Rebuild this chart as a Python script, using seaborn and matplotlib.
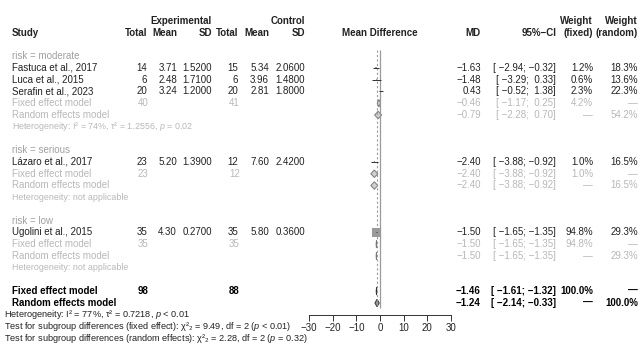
import numpy as np
import pandas as pd
import matplotlib
matplotlib.use("Agg")
import matplotlib.pyplot as plt
import seaborn as sns

# study level data
study = ["Fastuca et al., 2017", "Luca et al., 2015", "Serafin et al., 2023",
         "Lázaro et al., 2017", "Ugolini et al., 2015"]
group = ["moderate", "moderate", "moderate", "serious", "low"]
n_e = [14, 6, 20, 23, 35]
mean_e = [3.71, 2.48, 3.24, 5.20, 4.30]
sd_e = [1.52, 1.71, 1.20, 1.39, 0.27]
n_c = [15, 6, 20, 12, 35]
mean_c = [5.34, 3.96, 2.81, 7.60, 5.80]
sd_c = [2.06, 1.48, 1.80, 2.42, 0.36]
md = [-1.63, -1.48, 0.43, -2.40, -1.50]
md_lo = [-2.94, -3.29, -0.52, -3.88, -1.65]
md_hi = [-0.32, 0.33, 1.38, -0.92, -1.35]
w_fixed = [1.2, 0.6, 2.3, 1.0, 94.8]
w_random = [18.3, 13.6, 22.3, 16.5, 29.3]

# subgroup summaries
groups = ["moderate", "serious", "low"]
grp_n_e = [40, 23, 35]
grp_n_c = [41, 12, 35]
grp_fe = [-0.46, -2.40, -1.50]
grp_fe_lo = [-1.17, -3.88, -1.65]
grp_fe_hi = [0.25, -0.92, -1.35]
grp_re = [-0.79, -2.40, -1.50]
grp_re_lo = [-2.28, -3.88, -1.65]
grp_re_hi = [0.70, -0.92, -1.35]
grp_w_fixed = [4.2, 1.0, 94.8]
grp_w_random = [54.2, 16.5, 29.3]
grp_het = ["Heterogeneity: I\u00b2 = 74%, \u03c4\u00b2 = 1.2556, $p$ = 0.02",
           "Heterogeneity: not applicable", "Heterogeneity: not applicable"]

# overall
tot_n_e, tot_n_c = 98, 88
tot_fe, tot_fe_lo, tot_fe_hi = -1.46, -1.61, -1.32
tot_re, tot_re_lo, tot_re_hi = -1.24, -2.14, -0.33
tot_het = "Heterogeneity: I\u00b2 = 77%, \u03c4\u00b2 = 0.7218, $p$ < 0.01"
test_fixed = "Test for subgroup differences (fixed effect): \u03c7\u00b2\u2082 = 9.49, df = 2 ($p$ < 0.01)"
test_random = "Test for subgroup differences (random effects): \u03c7\u00b2\u2082 = 2.28, df = 2 ($p$ = 0.32)"
xticks = [-30, -20, -10, 0, 10, 20, 30]

sns.set_style("white")
plt.rcParams['font.family'] = ['Liberation Sans', 'DejaVu Sans']
plt.rcParams['mathtext.fontset'] = 'custom'
plt.rcParams['mathtext.rm'] = 'Liberation Sans'
plt.rcParams['mathtext.it'] = 'Liberation Sans:italic'

W, H = 638, 347
Y0, DY = 21, 11.75  # row 0 pixel position and row height


def ypx(r):
    return Y0 + r * DY


fig = plt.figure(figsize=(W / 100, H / 100), dpi=100)
tab = fig.add_axes([0, 0, 1, 1])
tab.set_xlim(0, W)
tab.set_ylim((H - Y0) / DY, -Y0 / DY)
tab.axis("off")

FS = 7.0
DARK = "#222222"
GREY = "#a0a0a0"
LGREY = "#b8b8b8"
DASH = "\u2014"

col = dict(e_tot=147, e_mean=177, e_sd=212, c_tot=238, c_mean=269, c_sd=305,
           md=481, ci=556, wf=593, wr=638)


def t(x, r, s, ha="right", color=DARK, size=FS, weight="normal"):
    tab.text(x, r, s, ha=ha, va="center", color=color, fontsize=size, fontweight=weight)


def num(v):
    return f"{v:.2f}".replace("-", "\u2212")


def ci(lo, hi):
    return f"[ {num(lo)}; {num(hi) if hi < 0 else ' ' + num(hi)}]"


# header
t(col["e_sd"], 0, "Experimental", weight="bold")
t(col["c_sd"], 0, "Control", weight="bold")
t(col["wf"], 0, "Weight", weight="bold")
t(col["wr"], 0, "Weight", weight="bold")
t(12, 1, "Study", ha="left", weight="bold")
for k, s in [("e_tot", "Total"), ("e_mean", "Mean"), ("e_sd", "SD"), ("c_tot", "Total"),
             ("c_mean", "Mean"), ("c_sd", "SD"), ("md", "MD"), ("ci", "95%\u2212CI"),
             ("wf", "(fixed)"), ("wr", "(random)")]:
    t(col[k], 1, s, weight="bold")
t(380, 1, "Mean Difference", ha="center", weight="bold")

# rows
rows_study, rows_grp = [], []
r = 3
for g_i, g in enumerate(groups):
    t(12, r, f"risk = {g}", ha="left", color=GREY)
    r += 1
    for i in [k for k in range(len(study)) if group[k] == g]:
        t(12, r, study[i], ha="left")
        t(col["e_tot"], r, str(n_e[i]))
        t(col["e_mean"], r, f"{mean_e[i]:.2f}")
        t(col["e_sd"], r, f"{sd_e[i]:.4f}")
        t(col["c_tot"], r, str(n_c[i]))
        t(col["c_mean"], r, f"{mean_c[i]:.2f}")
        t(col["c_sd"], r, f"{sd_c[i]:.4f}")
        t(col["md"], r, num(md[i]))
        t(col["ci"], r, ci(md_lo[i], md_hi[i]))
        t(col["wf"], r, f"{w_fixed[i]:.1f}%")
        t(col["wr"], r, f"{w_random[i]:.1f}%")
        rows_study.append(r)
        r += 1
    t(12, r, "Fixed effect model", ha="left", color=LGREY)
    t(col["e_tot"] - 9, r, str(grp_n_e[g_i]), ha="left", color=LGREY)
    t(col["c_tot"] - 9, r, str(grp_n_c[g_i]), ha="left", color=LGREY)
    t(col["md"], r, num(grp_fe[g_i]), color=LGREY)
    t(col["ci"], r, ci(grp_fe_lo[g_i], grp_fe_hi[g_i]), color=LGREY)
    t(col["wf"], r, f"{grp_w_fixed[g_i]:.1f}%", color=LGREY)
    t(col["wr"], r, DASH, color=LGREY)
    rows_grp.append(("fe", r, grp_fe[g_i], grp_fe_lo[g_i], grp_fe_hi[g_i]))
    r += 1
    t(12, r, "Random effects model", ha="left", color=LGREY)
    t(col["md"], r, num(grp_re[g_i]), color=LGREY)
    t(col["ci"], r, ci(grp_re_lo[g_i], grp_re_hi[g_i]), color=LGREY)
    t(col["wf"], r, DASH, color=LGREY)
    t(col["wr"], r, f"{grp_w_random[g_i]:.1f}%", color=LGREY)
    rows_grp.append(("re", r, grp_re[g_i], grp_re_lo[g_i], grp_re_hi[g_i]))
    r += 1
    t(12, r, grp_het[g_i], ha="left", color=LGREY, size=6.4)
    r += 2

# overall rows
r_fe, r_re = r, r + 1
t(12, r_fe, "Fixed effect model", ha="left", weight="bold", color="black")
t(col["e_tot"] - 9, r_fe, str(tot_n_e), ha="left", weight="bold", color="black")
t(col["c_tot"] - 9, r_fe, str(tot_n_c), ha="left", weight="bold", color="black")
t(col["md"], r_fe, num(tot_fe), weight="bold", color="black")
t(col["ci"], r_fe, ci(tot_fe_lo, tot_fe_hi), weight="bold", color="black")
t(col["wf"], r_fe, "100.0%", weight="bold", color="black")
t(col["wr"], r_fe, DASH, weight="bold", color="black")
t(12, r_re, "Random effects model", ha="left", weight="bold", color="black")
t(col["md"], r_re, num(tot_re), weight="bold", color="black")
t(col["ci"], r_re, ci(tot_re_lo, tot_re_hi), weight="bold", color="black")
t(col["wf"], r_re, DASH, weight="bold", color="black")
t(col["wr"], r_re, "100.0%", weight="bold", color="black")
t(4, r + 2, tot_het, ha="left", size=6.6)
t(4, r + 3, test_fixed, ha="left", size=6.6)
t(4, r + 4, test_random, ha="left", size=6.6)

# forest panel
r_axis = r + 2
top = 2.3
ax = fig.add_axes([309 / W, (H - ypx(r_axis)) / H, 142 / W, (ypx(r_axis) - ypx(top)) / H])
ax.set_xlim(-30, 30)
ax.set_ylim(r_axis, top)
ax.patch.set_alpha(0)

ax.vlines(0, top + 0.2, r_re + 0.4, color="#9a9a9a", lw=0.9)
ax.vlines(tot_fe, top + 0.2, r_re + 0.4, color="#9a9a9a", lw=0.8, linestyles=(0, (2, 2)))

df = pd.DataFrame({"md": md, "lo": md_lo, "hi": md_hi, "w": w_fixed, "row": rows_study})
ax.hlines(df["row"], df["lo"], df["hi"], color="#333333", lw=0.7)
sns.scatterplot(data=df, x="md", y="row", size="w", sizes=(0.4, 40), size_norm=(0, 94.8),
                marker="s", color="#9a9a9a", edgecolor="#9a9a9a", legend=False, ax=ax)


def diamond(est, lo, hi, row, fc, ec):
    h = 0.32
    ax.fill([lo, est, hi, est], [row, row - h, row, row + h], facecolor=fc, edgecolor=ec, lw=0.7)


for kind, row, est, lo, hi in rows_grp:
    diamond(est, lo, hi, row, "#d0d0d0", "#7a7a7a")
diamond(tot_fe, tot_fe_lo, tot_fe_hi, r_fe, "#9a9a9a", "#333333")
diamond(tot_re, tot_re_lo, tot_re_hi, r_re, "#9a9a9a", "#333333")

ax.set_xticks(xticks)
ax.set_xticklabels([str(v).replace("-", "\u2212") for v in xticks], fontsize=7)
ax.set_yticks([])
ax.set_xlabel("")
ax.set_ylabel("")
for s in ["left", "right", "top"]:
    ax.spines[s].set_visible(False)
ax.spines["bottom"].set_color("#333333")
ax.spines["bottom"].set_linewidth(0.7)
ax.tick_params(axis="x", direction="out", length=4, width=0.7, color="#333333", pad=2,
               labelcolor=DARK, bottom=True)

fig.savefig("out.png", dpi=100)
